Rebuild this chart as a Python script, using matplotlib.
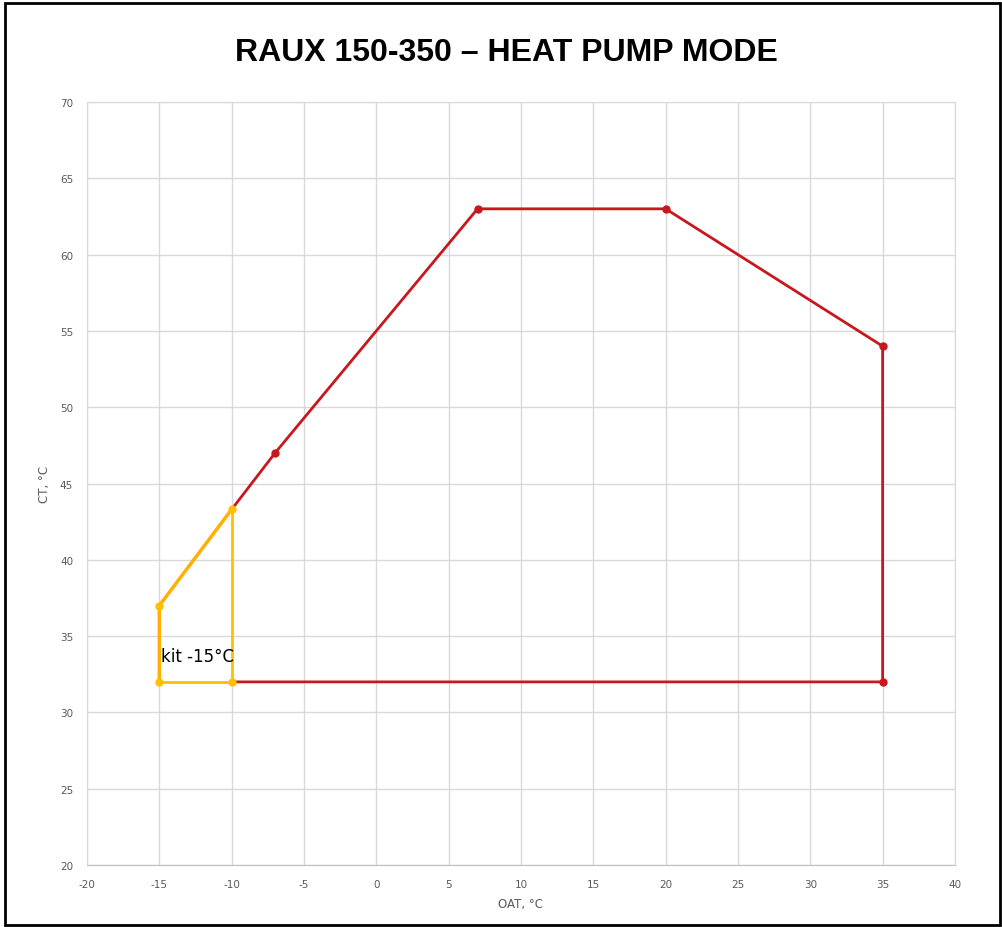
import matplotlib.pyplot as plt
from matplotlib.patches import Rectangle

plt.rcParams['axes.unicode_minus'] = False

# envelope data (OAT, CT)
red_oat = [-10, -7, 7, 20, 35, 35, -10]
red_ct = [43.3, 47, 63, 63, 54, 32, 32]
kit_oat = [-10, -15, -15, -10, -10]
kit_ct = [43.3, 37, 32, 32, 43.3]

fig = plt.figure(figsize=(10.03, 9.28), dpi=100)
ax = fig.add_axes([0.0867, 0.0668, 0.8654, 0.8222])

ax.plot(red_oat, red_ct, color='#C8171E', linewidth=2, zorder=3)
ax.plot(red_oat[1:6], red_ct[1:6], 'o', color='#C8171E', markersize=5, zorder=4)

# yellow kit polygon; diagonal looks orange over the red
ax.plot(kit_oat[2:], kit_ct[2:], color='#FFC000', linewidth=2, zorder=5)
ax.plot(kit_oat[:3], kit_ct[:3], color='#FFB000', linewidth=2.5, zorder=5)
ax.plot(kit_oat[:4], kit_ct[:4], 'o', color='#FFC000', markersize=5, zorder=6)

ax.text(-14.9, 33.4, 'kit -15°C', fontsize=12, color='black', zorder=7)

ax.set_xlim(-20, 40)
ax.set_ylim(20, 70)
ax.set_xticks(range(-20, 41, 5))
ax.set_yticks(range(20, 71, 5))
ax.grid(True, color='#D9D9D9', linewidth=1)
ax.set_axisbelow(True)
ax.tick_params(length=0, labelsize=7.5, labelcolor='#595959', pad=10)
for s in ax.spines.values():
    s.set_color('#D9D9D9')
ax.spines['bottom'].set_color('#BFBFBF')
ax.set_xlabel('OAT, °C', fontsize=8.5, color='#595959', labelpad=6)
ax.set_ylabel('CT, °C', fontsize=8.5, color='#595959', labelpad=6)

fig.text(0.505, 0.943, 'RAUX 150-350 – HEAT PUMP MODE', ha='center', va='center',
         fontsize=23, fontweight='bold', family='Liberation Sans')

fig.patches.append(Rectangle((0.005, 0.002), 0.992, 0.994, transform=fig.transFigure,
                             fill=False, edgecolor='black', linewidth=2))

fig.savefig('out.png', dpi=100)
